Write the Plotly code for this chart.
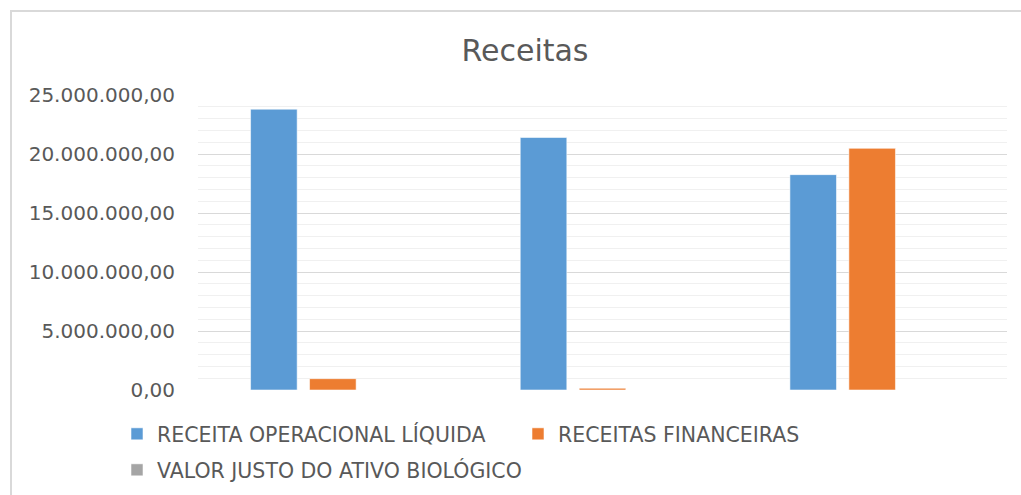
import plotly.graph_objects as go

# ---- data ----
categories = ["Período 1", "Período 2", "Período 3"]
receita_operacional = [23_800_000, 21_400_000, 18_250_000]
receitas_financeiras = [960_000, 150_000, 20_480_000]
valor_justo = [0, 0, 0]
series_names = ["RECEITA OPERACIONAL LÍQUIDA", "RECEITAS FINANCEIRAS",
                "VALOR JUSTO DO ATIVO BIOLÓGICO"]
tick_vals = [0, 5_000_000, 10_000_000, 15_000_000, 20_000_000, 25_000_000]
tick_text = ["0,00", "5.000.000,00", "10.000.000,00", "15.000.000,00",
             "20.000.000,00", "25.000.000,00"]

W, H = 1021, 495
L, R, T, B = 198, 14, 95, 105
pw, ph = W - L - R, H - T - B

def px_x(p):
    return (p - L) / pw

def px_y(p):
    return (H - B - p) / ph

FONT = "DejaVu Sans"
TXT = "#595959"

fig = go.Figure()
colors = ["#5B9BD5", "#ED7D31", "#A5A5A5"]
for vals, name, col, lg in zip([receita_operacional, receitas_financeiras, valor_justo],
                               series_names, colors, ["legend", "legend", "legend2"]):
    fig.add_trace(go.Bar(x=categories, y=vals, name=name,
                         marker=dict(color=col, line=dict(color="rgba(255,255,255,0.55)", width=1)),
                         legend=lg))

fig.update_layout(
    width=W, height=H,
    margin=dict(l=L, r=R, t=T, b=B, autoexpand=False),
    paper_bgcolor="white", plot_bgcolor="white",
    barmode="group", bargap=0.344, bargroupgap=0.21,
    title=dict(text="Receitas", x=525 / W, xref="container", xanchor="center",
               y=1 - 50 / H, yref="container", yanchor="middle",
               font=dict(family=FONT, size=30, color=TXT)),
    xaxis=dict(showticklabels=False, showgrid=False, zeroline=False, showline=False,
               ticks=""),
    yaxis=dict(range=[0, 25_000_000], tickvals=tick_vals, ticktext=tick_text,
               tickfont=dict(family=FONT, size=20, color=TXT),
               showgrid=True, gridcolor="#d9d9d9", gridwidth=1.3,
               zeroline=False, showline=False, ticks="",
               ticklabelstandoff=22,
               minor=dict(dtick=1_000_000, showgrid=True, gridcolor="#f0f0f0", gridwidth=1)),
    legend=dict(orientation="h", x=px_x(117), xanchor="left", y=px_y(434), yanchor="middle",
                entrywidth=356, entrywidthmode="pixels",
                font=dict(family=FONT, size=20.5, color=TXT), bgcolor="rgba(0,0,0,0)"),
    legend2=dict(orientation="h", x=px_x(117), xanchor="left", y=px_y(470), yanchor="middle",
                 font=dict(family=FONT, size=20.5, color=TXT), bgcolor="rgba(0,0,0,0)"),
    showlegend=True,
    shapes=[dict(type="path", xref="paper", yref="paper",
                 path=f"M {px_x(11)},{px_y(500)} L {px_x(11)},{px_y(11)} L {px_x(1030)},{px_y(11)}",
                 line=dict(color="#d9d9d9", width=2))],
)

fig.write_html("out.html", config={"displayModeBar": False},
               post_script="document.body.style.margin='0';document.body.style.overflow='hidden';")
